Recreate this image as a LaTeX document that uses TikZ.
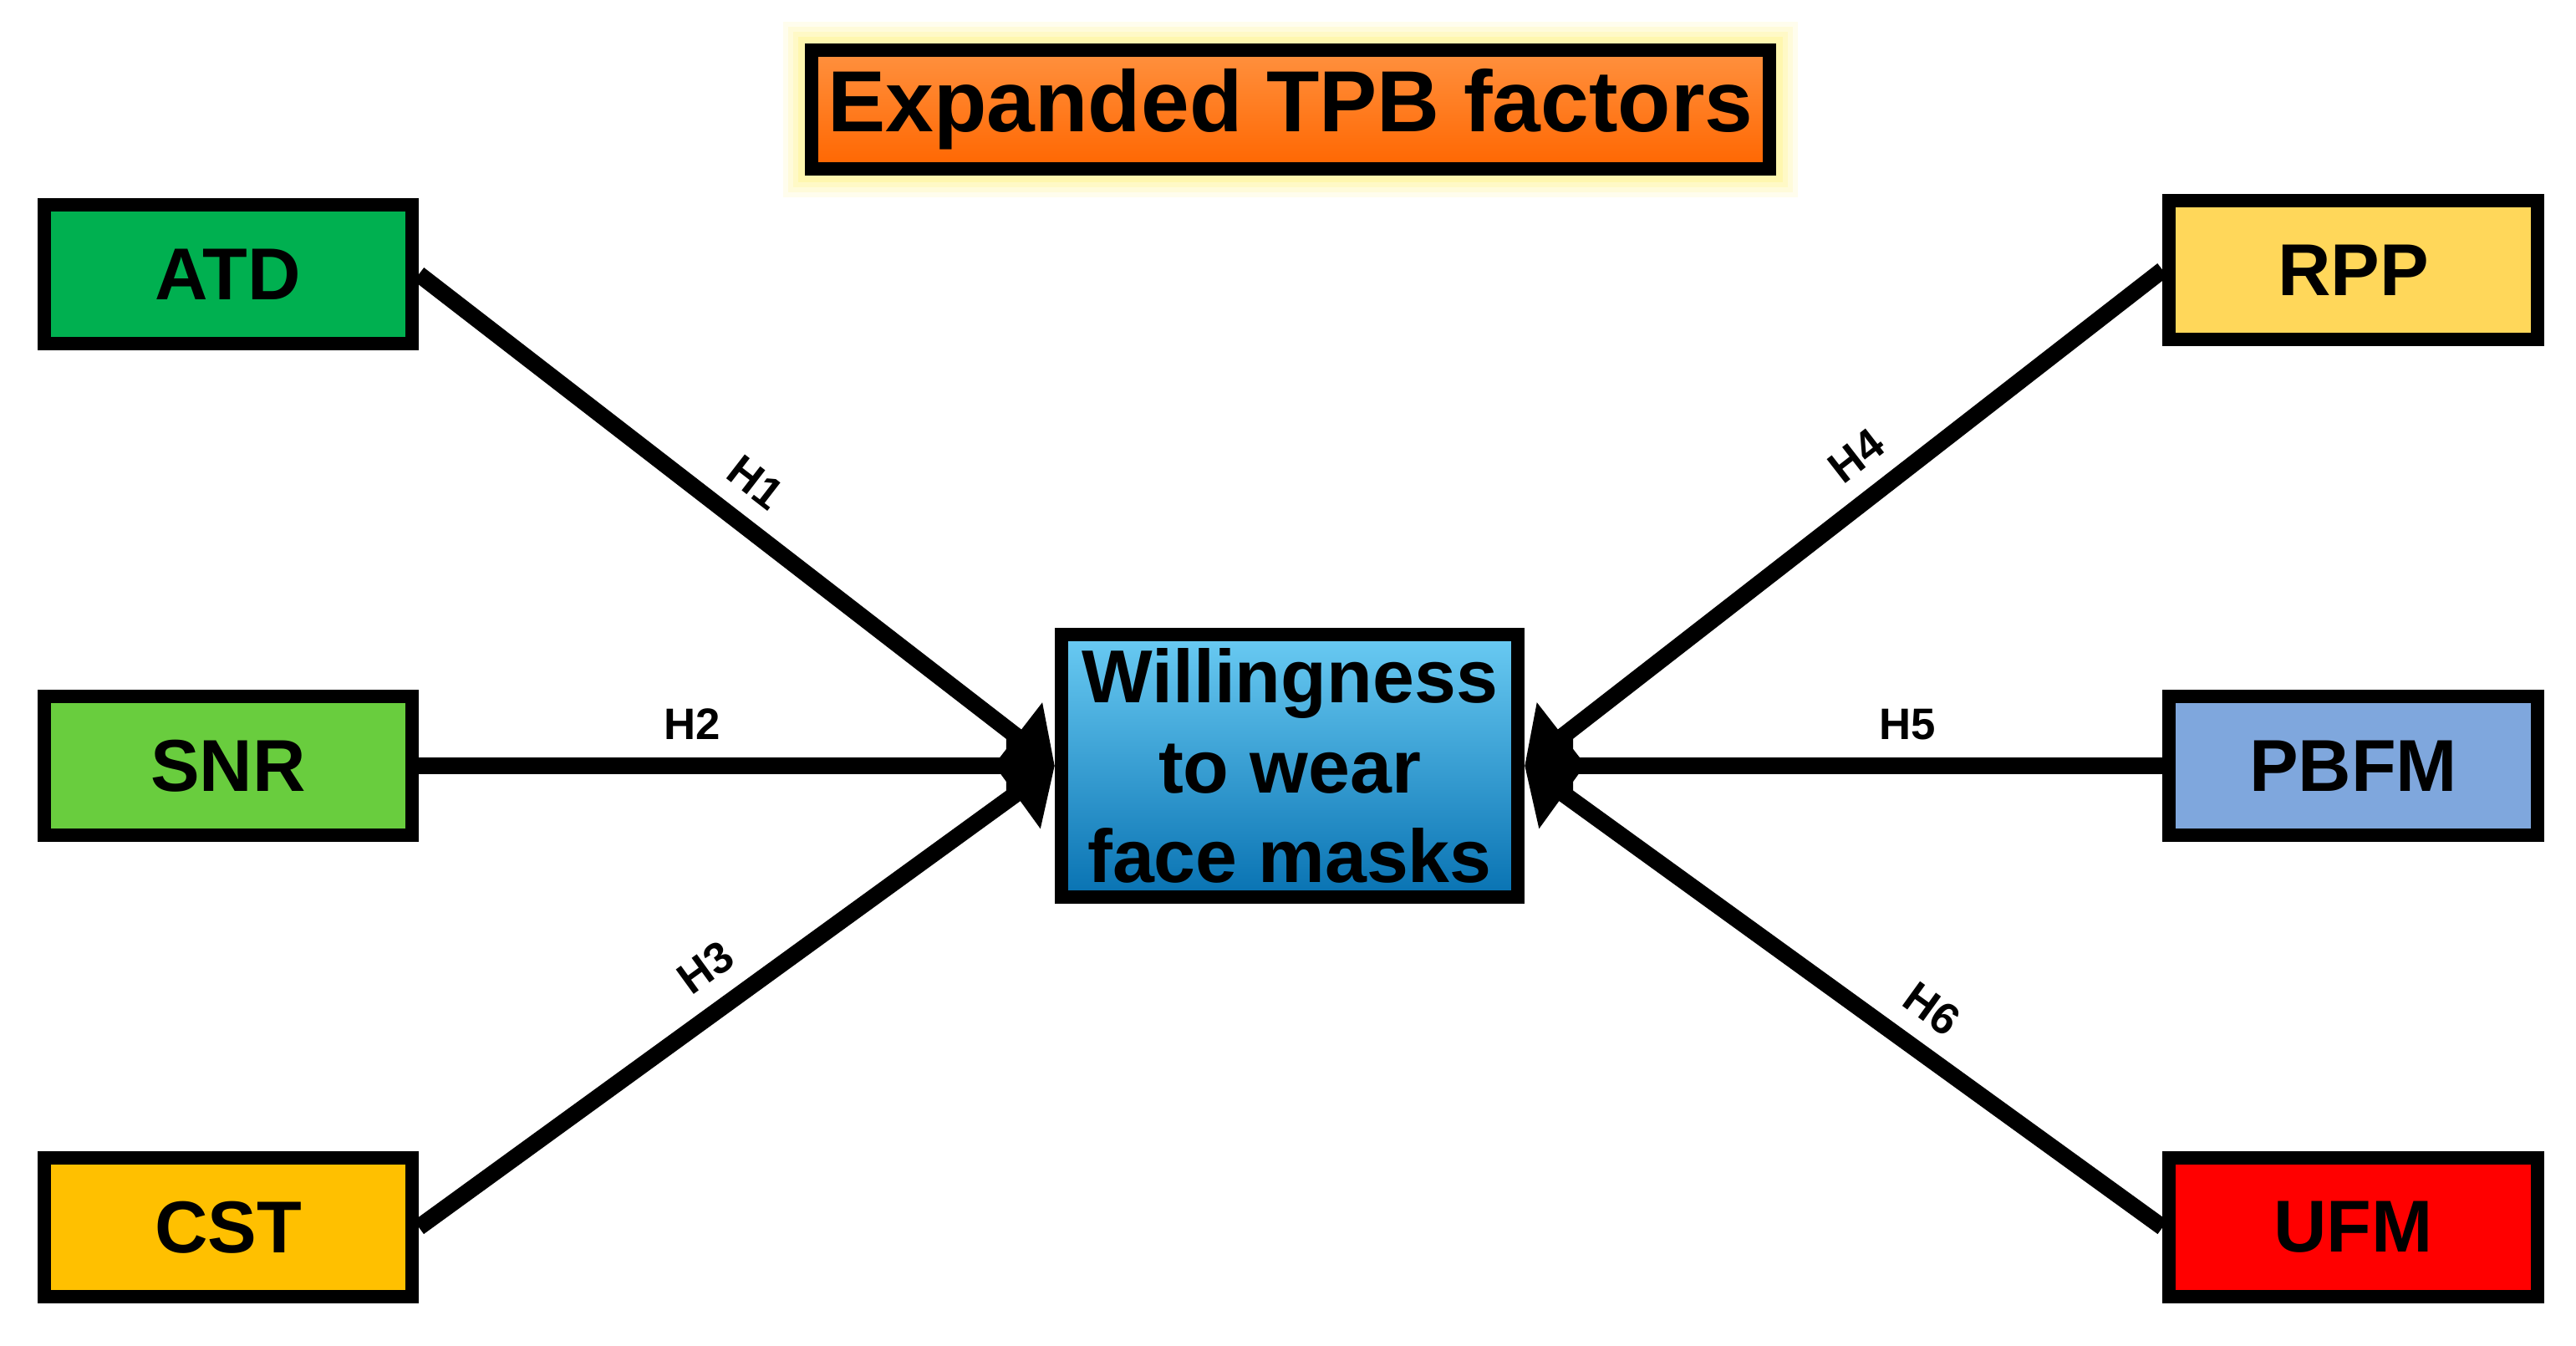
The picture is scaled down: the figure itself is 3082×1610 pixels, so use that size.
\documentclass[tikz,border=0pt]{standalone}
\usepackage{fontspec}
\setmainfont{Liberation Sans}
\usetikzlibrary{arrows.meta,shadows}
\definecolor{cATD}{HTML}{00B050}
\definecolor{cSNR}{HTML}{69CD3E}
\definecolor{cCST}{HTML}{FFC000}
\definecolor{cRPP}{HTML}{FFD75A}
\definecolor{cPBFM}{HTML}{7FA7DD}
\definecolor{cUFM}{HTML}{FF0000}
\definecolor{ttop}{HTML}{FF913F}
\definecolor{tbot}{HTML}{FF6600}
\definecolor{glowc}{HTML}{FFF06A}
\definecolor{ctop}{HTML}{6ACBF3}
\definecolor{cbot}{HTML}{0872B2}
\begin{document}
\begin{tikzpicture}[x=0.01cm,y=-0.01cm,
  box/.style={draw=black, line width=0.16cm, minimum width=4.40cm, minimum height=1.66cm,
    inner sep=0pt, font=\fontsize{25}{29}\selectfont\bfseries},
  link/.style={line width=0.2cm, -{Triangle[length=0.58cm,width=0.98cm]}},
  hlab/.style={sloped, above, inner sep=6pt, font=\fontsize{15}{18}\selectfont\bfseries}]
\useasboundingbox (0,0) rectangle (3082,1610);
% glow behind the title
\foreach \g/\o in {26/0.12, 20/0.14, 14/0.18, 8/0.25}
  \fill[glowc, opacity=\o] (963-\g,52-\g) rectangle (2125+\g,210+\g);
\node[draw=black, line width=0.16cm, minimum width=11.46cm, minimum height=1.42cm,
  inner sep=0pt, top color=ttop, bottom color=tbot,
  font=\fontsize{29.5}{34}\selectfont\bfseries] (title) at (1544,131) {Expanded TPB factors};
% factor boxes
\node[box, fill=cATD]  (atd)  at (273,328)    {ATD};
\node[box, fill=cSNR]  (snr)  at (273,916)    {SNR};
\node[box, fill=cCST]  (cst)  at (273,1468)   {CST};
\node[box, fill=cRPP]  (rpp)  at (2815.5,323)  {RPP};
\node[box, fill=cPBFM] (pbfm) at (2815.5,916)  {PBFM};
\node[box, fill=cUFM]  (ufm)  at (2815.5,1468) {UFM};
% central box
\node[draw=black, line width=0.16cm, minimum width=5.46cm, minimum height=3.14cm,
  inner sep=0pt, top color=ctop, bottom color=cbot, align=center,
  drop shadow={shadow xshift=0.03cm, shadow yshift=-0.07cm, opacity=0.35},
  font=\fontsize{25.5}{30.5}\selectfont\bfseries] (ctr) at (1543,916) {Willingness\\to wear\\face masks};
% connectors
\draw[link] (atd.east)  -- node[hlab, pos=0.49] {H1} (ctr.west);
\draw[link] (snr.east)  -- node[hlab, pos=0.43] {H2} (ctr.west);
\draw[link] (cst.east)  -- node[hlab, pos=0.49] {H3} (ctr.west);
\draw[link] (rpp.west)  -- node[hlab, pos=0.44] {H4} (ctr.east);
\draw[link] (pbfm.west) -- node[hlab, pos=0.40] {H5} (ctr.east);
\draw[link] (ufm.west)  -- node[hlab, pos=0.40] {H6} (ctr.east);
\end{tikzpicture}
\end{document}
